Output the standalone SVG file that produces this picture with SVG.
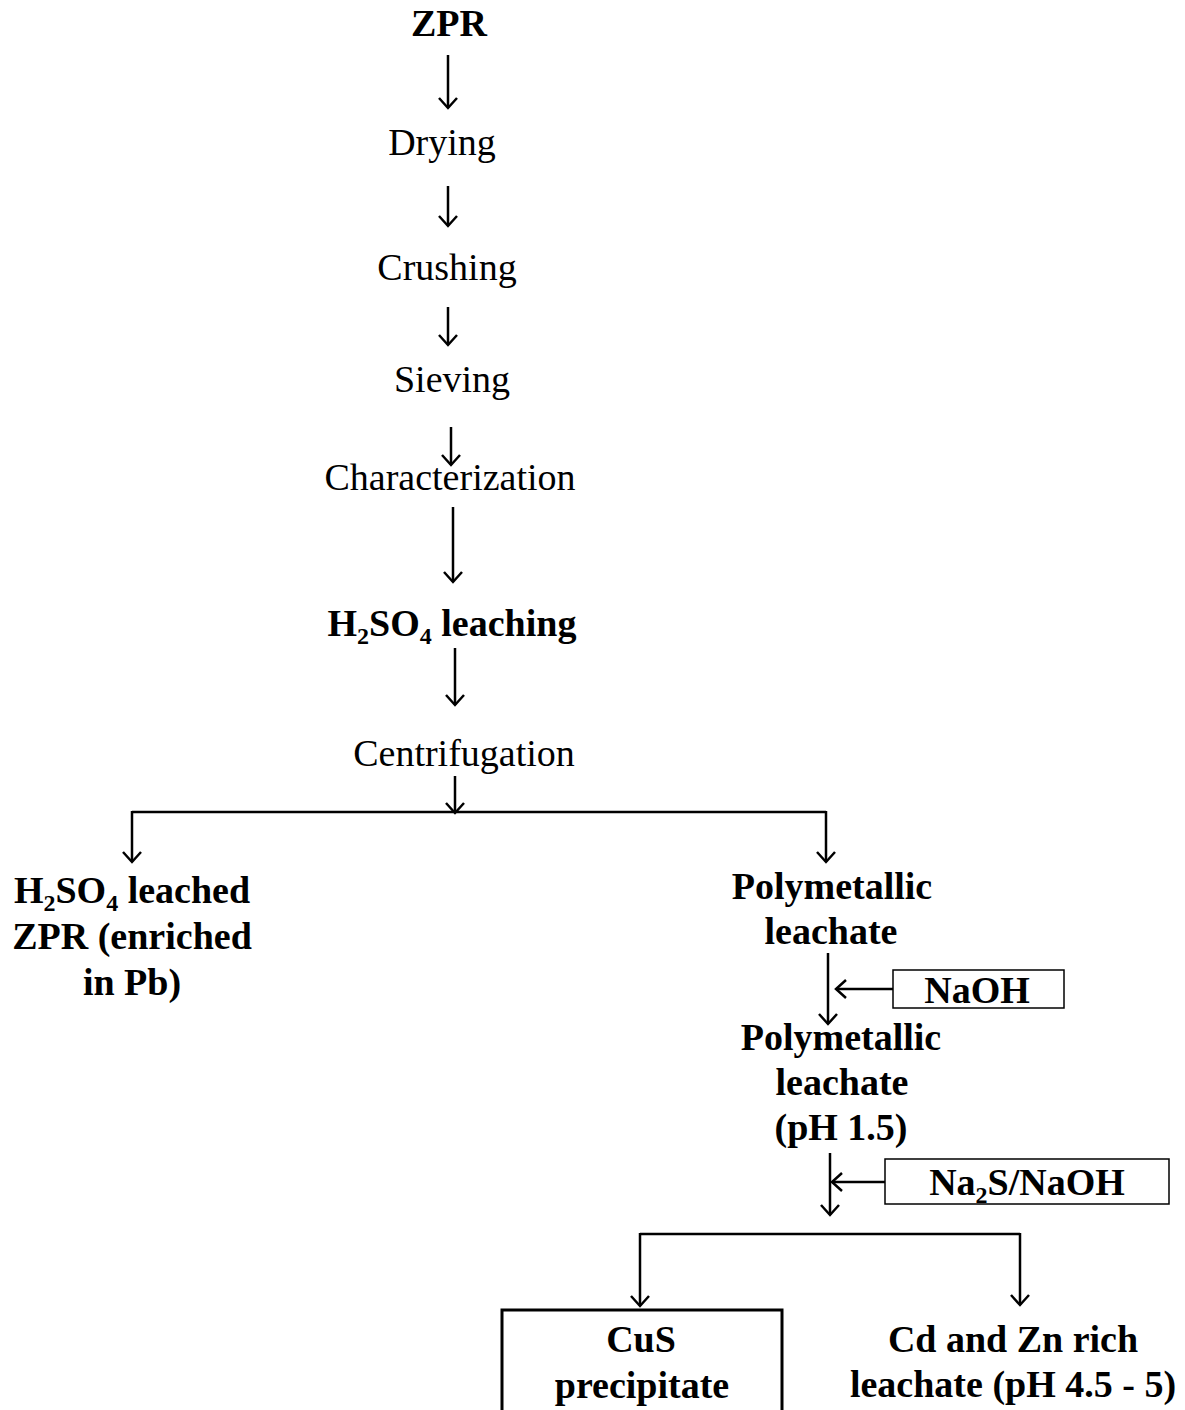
<svg xmlns="http://www.w3.org/2000/svg" width="1185" height="1410" viewBox="0 0 1185 1410">
<style>
text{font-family:"Liberation Serif","Times New Roman",serif;font-size:38px;fill:#000;text-anchor:middle}
.b{font-weight:bold}
.sub{font-size:24px}
.c{stroke:#000;stroke-width:2.5;fill:none}
.box{stroke:#000;stroke-width:1.5;fill:#fff}
</style>
<defs>
<marker id="ah" markerWidth="22" markerHeight="22" refX="17" refY="11" orient="auto" markerUnits="userSpaceOnUse" viewBox="0 0 22 22">
<path d="M7,2 L17,11 L7,20" fill="none" stroke="#000" stroke-width="2.5"/>
</marker>
</defs>
<g id="connectors">
<line class="c" x1="448" y1="55" x2="448" y2="108" marker-end="url(#ah)"/>
<line class="c" x1="448" y1="186" x2="448" y2="226" marker-end="url(#ah)"/>
<line class="c" x1="448" y1="307" x2="448" y2="345" marker-end="url(#ah)"/>
<line class="c" x1="451" y1="427" x2="451" y2="465" marker-end="url(#ah)"/>
<line class="c" x1="453" y1="507" x2="453" y2="582" marker-end="url(#ah)"/>
<line class="c" x1="455" y1="648" x2="455" y2="705" marker-end="url(#ah)"/>
<line class="c" x1="455" y1="776" x2="455" y2="813" marker-end="url(#ah)"/>
<line class="c" x1="132" y1="812" x2="826" y2="812"/>
<line class="c" x1="132" y1="811" x2="132" y2="862" marker-end="url(#ah)"/>
<line class="c" x1="826" y1="811" x2="826" y2="862" marker-end="url(#ah)"/>
<line class="c" x1="828" y1="953" x2="828" y2="1024" marker-end="url(#ah)"/>
<line class="c" x1="893" y1="989" x2="836" y2="989" marker-end="url(#ah)"/>
<line class="c" x1="830" y1="1153" x2="830" y2="1215" marker-end="url(#ah)"/>
<line class="c" x1="885" y1="1182" x2="832" y2="1182" marker-end="url(#ah)"/>
<line class="c" x1="640" y1="1234" x2="1020" y2="1234"/>
<line class="c" x1="640" y1="1233" x2="640" y2="1306" marker-end="url(#ah)"/>
<line class="c" x1="1020" y1="1233" x2="1020" y2="1305" marker-end="url(#ah)"/>
</g>
<g id="n-zpr"><text class="b" x="449" y="36">ZPR</text></g>
<g id="n-drying"><text x="442" y="155">Drying</text></g>
<g id="n-crushing"><text x="447" y="280">Crushing</text></g>
<g id="n-sieving"><text x="452" y="392">Sieving</text></g>
<g id="n-char"><text x="450" y="490">Characterization</text></g>
<g id="n-leach"><text class="b" x="452" y="636">H<tspan class="sub" dy="8">2</tspan><tspan dy="-8">SO</tspan><tspan class="sub" dy="8">4</tspan><tspan dy="-8"> leaching</tspan></text></g>
<g id="n-centri"><text x="464" y="766">Centrifugation</text></g>
<g id="n-leached"><text class="b" x="132" y="903">H<tspan class="sub" dy="8">2</tspan><tspan dy="-8">SO</tspan><tspan class="sub" dy="8">4</tspan><tspan dy="-8"> leached</tspan></text>
<text class="b" x="132" y="949">ZPR (enriched</text>
<text class="b" x="132" y="995">in Pb)</text></g>
<g id="n-poly1"><text class="b" x="832" y="899">Polymetallic</text><text class="b" x="831" y="944">leachate</text></g>
<g id="n-naoh"><rect class="box" x="893" y="970" width="171" height="38"/><text class="b" x="977" y="1003">NaOH</text></g>
<g id="n-poly2"><text class="b" x="841" y="1050">Polymetallic</text><text class="b" x="842" y="1095">leachate</text><text class="b" x="841" y="1140">(pH 1.5)</text></g>
<g id="n-na2s"><rect class="box" x="885" y="1159" width="284" height="45"/><text class="b" x="1027" y="1195">Na<tspan class="sub" dy="8">2</tspan><tspan dy="-8">S/NaOH</tspan></text></g>
<g id="n-cus"><rect x="502" y="1310" width="280" height="110" fill="none" stroke="#000" stroke-width="3"/><text class="b" x="641" y="1352">CuS</text><text class="b" x="642" y="1398">precipitate</text></g>
<g id="n-cdzn"><text class="b" x="1013" y="1352">Cd and Zn  rich</text><text class="b" x="1013" y="1397">leachate (pH 4.5 - 5)</text></g>
</svg>
